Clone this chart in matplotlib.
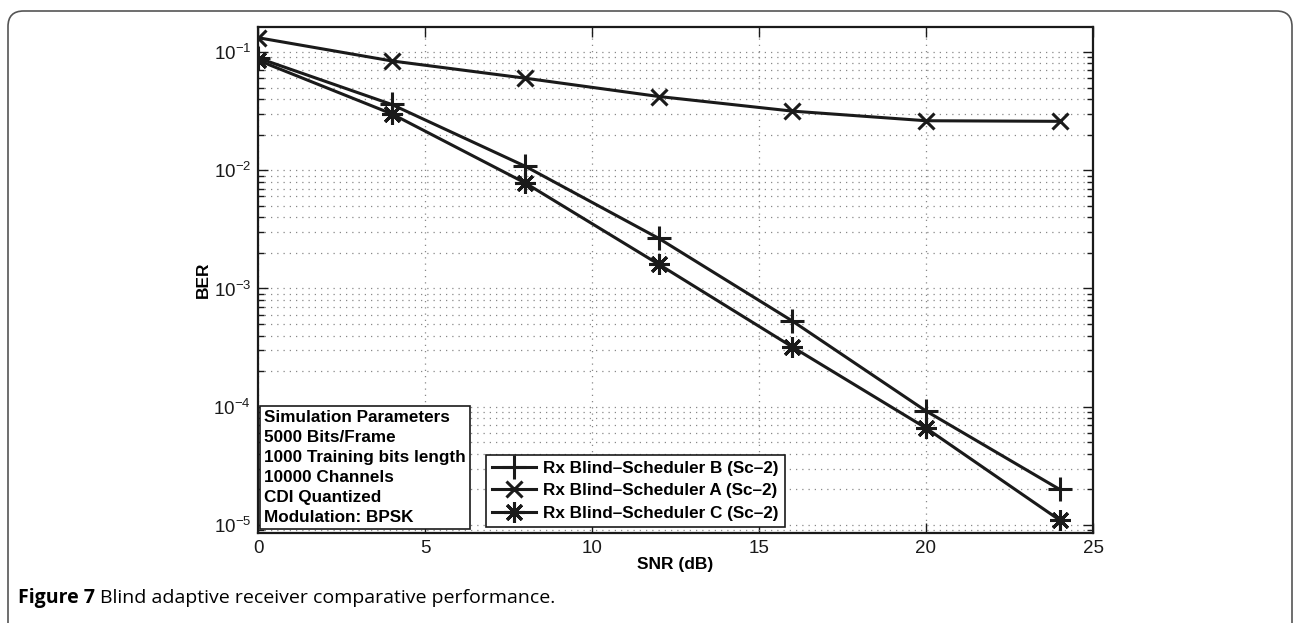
import numpy as np
import matplotlib.pyplot as plt
from matplotlib.patches import FancyBboxPatch
from matplotlib.ticker import LogLocator, NullFormatter

plt.rcParams['font.family'] = ['Liberation Sans', 'DejaVu Sans']
plt.rcParams['mathtext.fontset'] = 'custom'
plt.rcParams['mathtext.rm'] = 'Liberation Sans'

snr = [0, 4, 8, 12, 16, 20, 24]
ber_b = [0.089, 0.036, 0.0108, 0.00265, 5.3e-4, 9.2e-5, 2.0e-5]
ber_a = [0.132, 0.084, 0.060, 0.042, 0.0316, 0.0262, 0.0259]
ber_c = [0.085, 0.030, 0.0078, 0.0016, 3.2e-4, 6.6e-5, 1.1e-5]
labels = ["Rx Blind\u2013Scheduler B (Sc\u20132)",
          "Rx Blind\u2013Scheduler A (Sc\u20132)",
          "Rx Blind\u2013Scheduler C (Sc\u20132)"]
params = ["Simulation Parameters", "5000 Bits/Frame", "1000 Training bits length",
          "10000 Channels", "CDI Quantized", "Modulation: BPSK"]

W, H = 1294, 623
fig = plt.figure(figsize=(W / 100, H / 100), dpi=100)

# rounded frame around the figure
frame = FancyBboxPatch((8 / W, -0.05), 1284 / W, 1.05 - 11 / H,
                       boxstyle="round,pad=0,rounding_size=0.012",
                       transform=fig.transFigure, fill=False,
                       edgecolor='#555555', linewidth=1.2, mutation_aspect=W / H)
fig.patches.append(frame)

ax = fig.add_axes([258 / W, 1 - 533 / H, 835 / W, 506 / H])
ink = '#1a1a1a'
ax.plot(snr, ber_b, color=ink, lw=2.2, marker='+', ms=17, mew=2.2, label=labels[0])
ax.plot(snr, ber_a, color=ink, lw=2.2, marker='x', ms=12, mew=2.2, label=labels[1])
ax.plot(snr, ber_c, color=ink, lw=2.2, marker=(8, 2, 0), ms=15, mew=2.2, label=labels[2])

ax.set_yscale('log')
ax.set_xlim(0, 25)
ax.set_ylim(10 ** -5.068, 10 ** -0.789)
ax.set_xticks([0, 5, 10, 15, 20, 25])
ax.yaxis.set_major_locator(LogLocator(base=10, numticks=10))
ax.yaxis.set_minor_locator(LogLocator(base=10, subs=np.arange(2, 10), numticks=50))
ax.yaxis.set_minor_formatter(NullFormatter())
ax.tick_params(which='both', direction='in', top=True, right=True, labelsize=13.5,
               colors=ink, width=1)
ax.tick_params(which='major', length=7, pad=5)
ax.tick_params(which='minor', length=4)
ax.grid(True, which='major', linestyle=(0, (1, 4)), color='#888888', lw=0.9)
ax.grid(True, which='minor', axis='y', linestyle=(0, (1, 4)), color='#888888', lw=0.9)
for s in ax.spines.values():
    s.set_linewidth(1.6)
    s.set_color(ink)

ax.set_xlabel("SNR (dB)", fontsize=12.5, fontweight='bold', labelpad=0)
ax.set_ylabel("BER", fontsize=12.5, fontweight='bold', labelpad=2)

leg = ax.legend(loc='lower left', bbox_to_anchor=(228 / 835, 6 / 506),
                prop={'size': 12.3, 'weight': 'bold'},
                fancybox=False, edgecolor=ink, framealpha=1, borderaxespad=0,
                handlelength=2.6, handletextpad=0.4, borderpad=0.35, labelspacing=0.45)
leg.get_frame().set_linewidth(1.2)

ax.text(6 / 835, 8 / 506, "\n".join(params), transform=ax.transAxes,
        fontsize=12.3, fontweight='bold', va='bottom', ha='left', linespacing=1.42,
        bbox=dict(boxstyle='square,pad=0.25', facecolor='white', edgecolor=ink, lw=1.2))

cap = fig.text(18 / W, 1 - 598 / H, "Figure 7", fontsize=14, fontweight='bold',
               family=['Open Sans', 'DejaVu Sans'], va='center')
fig.canvas.draw()
bb = cap.get_window_extent()
fig.text((bb.x1 + 5) / W, 1 - 598 / H, "Blind adaptive receiver comparative performance.",
         fontsize=14, family=['Open Sans', 'DejaVu Sans'], va='center')

fig.savefig("out.png", dpi=100)
